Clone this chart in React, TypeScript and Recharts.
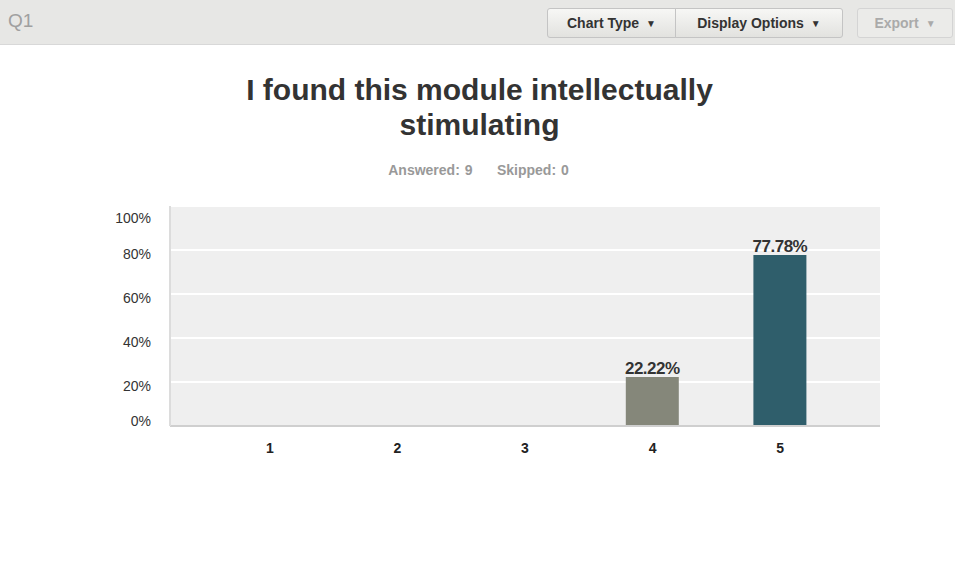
import React from "react";
import { BarChart, Bar, XAxis, YAxis, CartesianGrid, Cell, LabelList } from "recharts";

const categories = ["1", "2", "3", "4", "5"];
const percentages = [0, 0, 0, 22.22, 77.78];
const barColors = ["#85877a", "#85877a", "#85877a", "#85877a", "#2f5e6b"];
const yTicks = [0, 20, 40, 60, 80, 100];

const data = categories.map((c, i) => ({ name: c, value: percentages[i] }));

const FONT = "'Liberation Sans', Arial, Helvetica, sans-serif";

const YTick = (props: any) => {
  const { x, y, payload } = props;
  const v = payload.value;
  const dy = v === 100 ? 13 : v === 0 ? -4 : 5;
  return (
    <text x={x} y={y + dy} textAnchor="end" fontSize={14} fontFamily={FONT} fill="#333" dominantBaseline="middle">
      {v}%
    </text>
  );
};

const XTick = (props: any) => {
  const { x, y, payload } = props;
  return (
    <text x={x} y={y + 15} textAnchor="middle" fontSize={14} fontWeight="bold" fontFamily={FONT} fill="#222" dominantBaseline="middle">
      {payload.value}
    </text>
  );
};

const BarLabel = (props: any) => {
  const { x, y, width, value } = props;
  if (!value) return null;
  return (
    <text
      x={x + width / 2}
      y={y - 3}
      textAnchor="middle"
      fontSize={17}
      fontWeight="bold"
      fontFamily={FONT}
      fill="#333"
      letterSpacing={-0.5}
      style={{ fontWeight: 700 }}
    >
      {value.toFixed(2)}%
    </text>
  );
};

const btn: React.CSSProperties = {
  position: "absolute",
  top: 8,
  height: 30,
  boxSizing: "border-box",
  border: "1px solid #c4c4c4",
  background: "linear-gradient(#f7f7f5, #e2e2df)",
  fontFamily: FONT,
  fontWeight: "bold",
  fontSize: 14,
  color: "#333",
  display: "flex",
  alignItems: "center",
  justifyContent: "center",
};

const Caret = ({ color }: { color: string }) => (
  <span style={{ fontSize: 10, marginLeft: 7, color }}>▼</span>
);

export default function App() {
  return (
    <div style={{ position: "absolute", left: 0, top: 0, width: 955, height: 562, background: "#fff", overflow: "hidden", fontFamily: FONT }}>
      <div style={{ position: "absolute", left: 0, top: 0, width: 955, height: 44, background: "#e7e7e5", borderBottom: "1px solid #d8d8d8" }}>
        <div style={{ position: "absolute", left: 8, top: 10, fontSize: 19, color: "#a0a0a0" }}>Q1</div>
        <div style={{ ...btn, left: 547, width: 129, borderRadius: "3px 0 0 3px" }}>
          Chart Type<Caret color="#333" />
        </div>
        <div style={{ ...btn, left: 675, width: 168, borderRadius: "0 3px 3px 0" }}>
          Display Options<Caret color="#333" />
        </div>
        <div style={{ ...btn, left: 857, width: 96, borderRadius: 3, color: "#aaa", background: "#ebebe9", borderColor: "#d4d4d4" }}>
          Export<Caret color="#aaa" />
        </div>
      </div>
      <div style={{ position: "absolute", left: 0, width: 955, top: 72, textAlign: "center", fontSize: 30, fontWeight: "bold", color: "#333", lineHeight: "35px" }}>
        <div style={{ width: 540, margin: "0 auto", position: "relative", left: 2 }}>I found this module intellectually stimulating</div>
      </div>
      <div style={{ position: "absolute", left: 0, width: 957, top: 162, textAlign: "center", fontSize: 14, fontWeight: "bold", color: "#999", wordSpacing: 1 }}>
        Answered: 9&nbsp;&nbsp;&nbsp;&nbsp;&nbsp;Skipped: 0
      </div>
      <div style={{ position: "absolute", left: 0, top: 0 }}>
        <BarChart width={955} height={562} data={data} margin={{ top: 206, right: 75, bottom: 106, left: 110 }}>
          <CartesianGrid vertical={false} fill="#efefef" stroke="#ffffff" strokeWidth={2} />
          <XAxis
            dataKey="name"
            padding={{ left: 36, right: 36 }}
            axisLine={{ stroke: "#cfcfcf", strokeWidth: 2 }}
            tickLine={false}
            height={30}
            tick={<XTick />}
            interval={0}
          />
          <YAxis
            width={60}
            domain={[0, 100]}
            ticks={yTicks}
            axisLine={{ stroke: "#dcdcdc", strokeWidth: 2 }}
            tickLine={false}
            tickSize={6}
            tickMargin={13}
            tick={<YTick />}
            interval={0}
          />
          <Bar dataKey="value" barSize={53} isAnimationActive={false}>
            {data.map((d, i) => (
              <Cell key={d.name} fill={barColors[i]} />
            ))}
            <LabelList dataKey="value" content={<BarLabel />} />
          </Bar>
        </BarChart>
      </div>
    </div>
  );
}
